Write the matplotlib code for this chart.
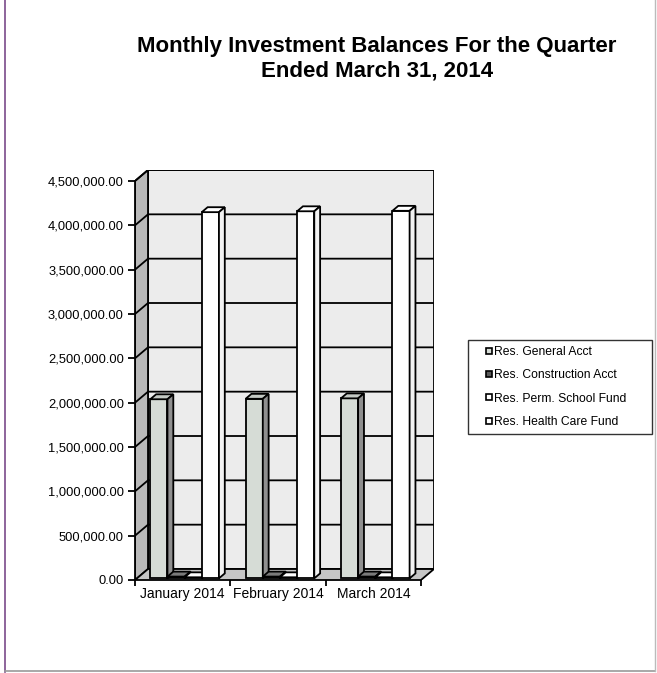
import numpy as np
import matplotlib.pyplot as plt
from matplotlib.patches import Polygon
from matplotlib.lines import Line2D

plt.rcParams['font.family'] = ['Liberation Sans', 'DejaVu Sans']

# Data
months = ["January 2014", "February 2014", "March 2014"]
series_names = ["Res. General Acct", "Res. Construction Acct",
                "Res. Perm. School Fund", "Res. Health Care Fund"]
general      = [2020000, 2025000, 2030000]
construction = [20000, 20000, 20000]
perm_school  = [12000, 12000, 12000]
health_care  = [4130000, 4140000, 4145000]
yticks = np.arange(0, 4500001, 500000)

# face colours for each series: front, side, top
front_cols = ["#d6dcd6", "#5a5a5a", "#ffffff", "#ffffff"]
side_cols  = ["#8f8f8f", "#333333", "#dcdcdc", "#f2f2f2"]
top_cols   = ["#c4c9c4", "#7a7a7a", "#ffffff", "#ffffff"]

values = [general, construction, perm_school, health_care]

# fake 3d depth (in data units)
dx = 0.1364
dy = 124000.
ymax = 4500000.

fig = plt.figure( figsize=(6.57, 6.73), dpi=100 )
ax = fig.add_axes( [135/657, 93/673, 299/657, 410/673] )
ax.set_xlim( -0.5, 2.5 + dx )
ax.set_ylim( 0, ymax + dy )

x0, x1 = -0.5, 2.5
lw = 1.3

# back wall
ax.add_patch( Polygon( [(x0+dx, dy), (x1+dx, dy), (x1+dx, ymax+dy), (x0+dx, ymax+dy)],
                       closed=True, fc="#ececec", ec="k", lw=lw, zorder=1 ) )
# left side wall
ax.add_patch( Polygon( [(x0, 0), (x0+dx, dy), (x0+dx, ymax+dy), (x0, ymax)],
                       closed=True, fc="#b9b9b9", ec="k", lw=lw, zorder=1 ) )
# grid lines on the walls
for v in yticks[1:]:
    ax.plot( [x0, x0+dx, x1+dx], [v, v+dy, v+dy], c="k", lw=lw, zorder=2 )
# floor
ax.add_patch( Polygon( [(x0, 0), (x1, 0), (x1+dx, dy), (x0+dx, dy)],
                       closed=True, fc="#c6c6c6", ec="k", lw=lw, zorder=3 ) )

# bars
w = 0.18
f0 = 0.15     # front of the bars, as fraction of depth
fd = 0.45     # depth of the bars, as fraction of depth
ox, oy = f0*dx, f0*dy
bx, by = fd*dx, fd*dy
z = 4
for j in range( len(months) ):
    for i in range( len(values) ):
        v = values[i][j]
        xl = j + (i - 2) * w + ox
        yb = oy
        # front
        ax.add_patch( Polygon( [(xl, yb), (xl+w, yb), (xl+w, yb+v), (xl, yb+v)],
                               closed=True, fc=front_cols[i], ec="k", lw=lw, zorder=z ) )
        # top
        ax.add_patch( Polygon( [(xl, yb+v), (xl+w, yb+v), (xl+w+bx, yb+v+by), (xl+bx, yb+v+by)],
                               closed=True, fc=top_cols[i], ec="k", lw=lw, zorder=z ) )
        # side
        ax.add_patch( Polygon( [(xl+w, yb), (xl+w+bx, yb+by), (xl+w+bx, yb+v+by), (xl+w, yb+v)],
                               closed=True, fc=side_cols[i], ec="k", lw=lw, zorder=z ) )
        z += 1

# axes
for s in ["top", "right"]:
    ax.spines[s].set_visible( False )
ax.spines["left"].set_bounds( 0, ymax )
ax.spines["bottom"].set_bounds( x0, x1 )
ax.spines["left"].set_linewidth( lw )
ax.spines["bottom"].set_linewidth( lw )
ax.set_yticks( yticks )
ax.set_yticklabels( ["{:,.2f}".format( v ) for v in yticks], fontsize=9.3 )
ax.tick_params( axis="y", length=5, width=lw, pad=3 )
ax.set_xticks( range( len(months) ) )
ax.set_xticklabels( months, fontsize=10 )
ax.set_xticks( [-0.5, 0.5, 1.5, 2.5], minor=True )
ax.tick_params( axis="x", which="major", length=0, pad=5 )
ax.tick_params( axis="x", which="minor", length=4, width=lw )
ax.set_facecolor( "none" )

# legend
handles = [ Line2D( [], [], ls="none", marker="s", ms=5, mfc=front_cols[i], mec="k", mew=1.2 )
            for i in range( len(series_names) ) ]
leg = fig.legend( handles, series_names, loc="upper left", mode="expand",
                  bbox_to_anchor=(468/657, 1 - 437/673, 184/657, 97/673),
                  borderaxespad=0, numpoints=1,
                  fontsize=8.7, frameon=True, fancybox=False, edgecolor="k",
                  handlelength=2.4, handletextpad=-0.75,
                  labelspacing=0.93, borderpad=0.5 )
leg.get_frame().set_linewidth( 1.0 )

# title
fig.text( 377/657, 1 - 59/673, "Monthly Investment Balances For the Quarter\nEnded March 31, 2014",
          ha="center", va="center", fontsize=16, fontweight="bold", linespacing=1.25 )

# page border from the scan
fig.add_artist( Line2D( [5/657, 5/657], [1/673, 1], c="#7a4a8a", lw=1.2 ) )
fig.add_artist( Line2D( [5/657, 655/657], [2/673, 2/673], c="#9a9a9a", lw=1.2 ) )
fig.add_artist( Line2D( [655/657, 655/657], [2/673, 1], c="#bbbbbb", lw=1.0 ) )

plt.savefig( "out.png", dpi=100 )
